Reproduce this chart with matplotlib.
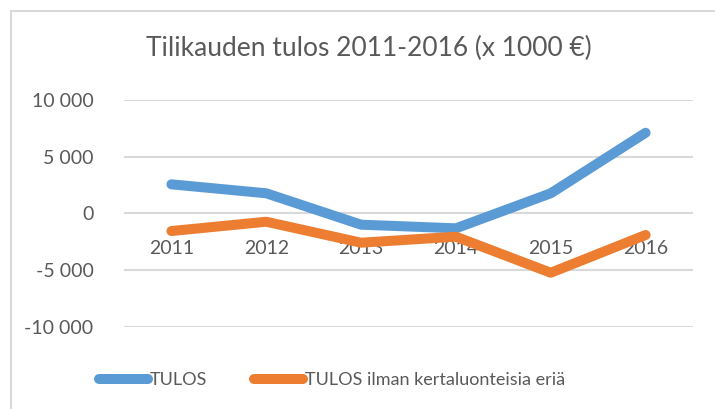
import matplotlib.pyplot as plt
from matplotlib.lines import Line2D

# data
years = ['2011', '2012', '2013', '2014', '2015', '2016']
tulos = [2560, 1770, -1000, -1320, 1770, 7110]
tulos_ilman = [-1560, -740, -2590, -2060, -5240, -1910]
series_names = ['TULOS', 'TULOS ilman kertaluonteisia eriä']

plt.rcParams['font.family'] = ['Lato', 'DejaVu Sans']
txt = '#595959'
grid_c = '#D9D9D9'

fig = plt.figure(figsize=(7.15, 4.09), dpi=100)
ax = fig.add_axes([124/715, 1-326.7/409, (693-124)/715, (326.7-100)/409])

x = list(range(len(years)))
ax.plot(x, tulos, color='#5B9BD5', lw=7.2, solid_capstyle='round', solid_joinstyle='round', zorder=3)
ax.plot(x, tulos_ilman, color='#ED7D31', lw=7.2, solid_capstyle='round', solid_joinstyle='round', zorder=3)

ax.set_xlim(-0.5, len(years)-0.5)
ax.set_ylim(-10000, 10000)
yt = [-10000, -5000, 0, 5000, 10000]
ax.set_yticks(yt)
ax.set_yticklabels([f'{v:,}'.replace(',', ' ') for v in yt], color=txt, fontsize=14)
ax.tick_params(axis='y', length=0, pad=22)
ax.grid(axis='y', color=grid_c, lw=1.5)
ax.set_axisbelow(True)
for s in ax.spines.values():
    s.set_visible(False)
ax.set_xticks([])

# category labels sit just under the zero line
for i, yr in zip(x, years):
    ax.annotate(yr, (i, 0), xytext=(0, -19), textcoords='offset points', ha='center', va='top',
                fontsize=14, color=txt, zorder=2)

fig.text(369/715, 1-48/409, 'Tilikauden tulos 2011-2016 (x 1000 €)', ha='center', va='center',
         fontsize=19, color=txt)

handles = [Line2D([], [], color='#5B9BD5', lw=7.2, solid_capstyle='round'),
           Line2D([], [], color='#ED7D31', lw=7.2, solid_capstyle='round')]
fig.legend(handles, series_names, loc='center', bbox_to_anchor=(332/715, 1-380/409), ncol=2,
           frameon=False, fontsize=13, labelcolor=txt, handlelength=2.7, handletextpad=0.1,
           columnspacing=2.6)

# chart border (left and top only visible)
fig.add_artist(Line2D([11/715, 11/715], [0, 1-11/409], color=grid_c, lw=1.5))
fig.add_artist(Line2D([11/715, 1], [1-11/409, 1-11/409], color=grid_c, lw=1.5))

fig.savefig('out.png', dpi=100)
